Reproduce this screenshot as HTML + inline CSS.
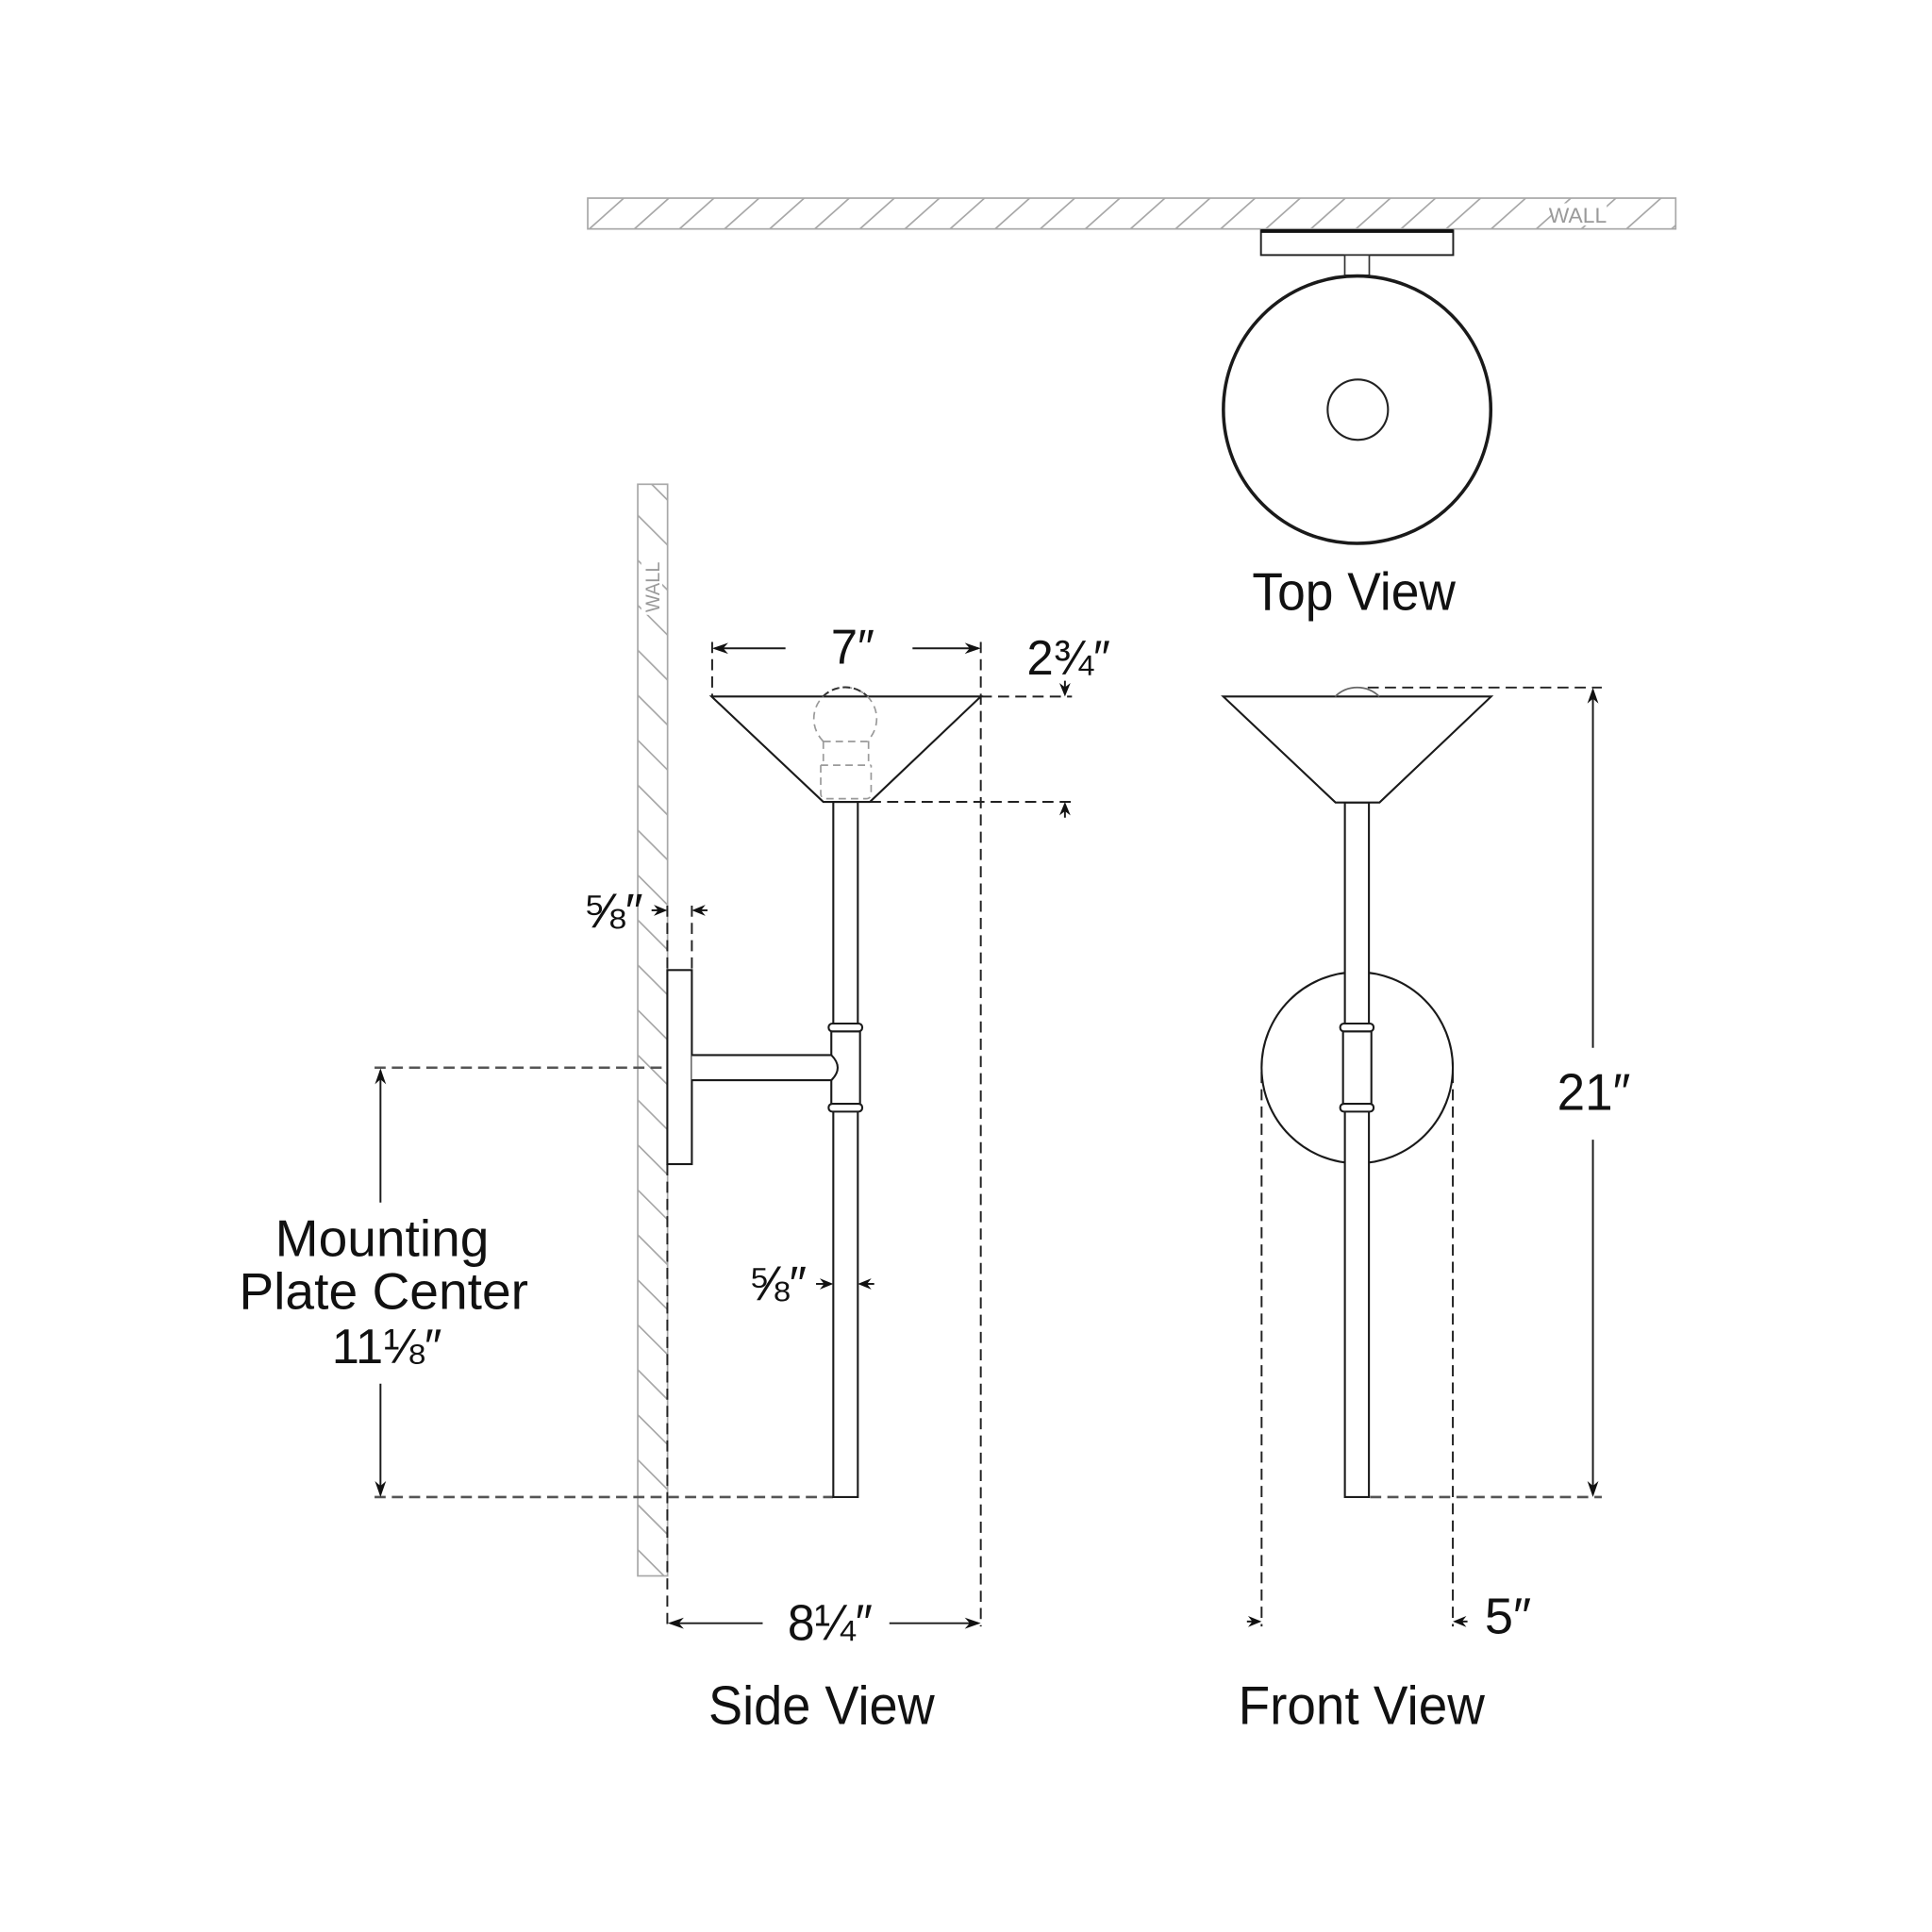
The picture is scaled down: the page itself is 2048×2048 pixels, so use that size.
<!DOCTYPE html>
<html><head><meta charset="utf-8"><style>html,body{margin:0;padding:0;background:#fff}svg{display:block}text{font-family:"Liberation Sans","DejaVu Sans",sans-serif;fill:#111}</style></head>
<body>
<svg xmlns="http://www.w3.org/2000/svg" width="2048" height="2048" viewBox="0 0 1568 1568">
<defs>
<clipPath id="cw1"><rect x="477" y="160.8" width="883" height="25"/></clipPath>
<clipPath id="cw2"><rect x="517.6" y="393" width="24.2" height="886"/></clipPath>
</defs>
<rect x="0" y="0" width="1568" height="1568" fill="#fff"/>

<!-- TOP WALL -->
<g stroke="#a8a8a8" stroke-width="1.3" fill="none">
<rect x="477" y="160.8" width="883" height="25"/>
<g clip-path="url(#cw1)">
<path d="M478.3 185.8L506.3 160.8M514.9 185.8L542.9 160.8M551.5 185.8L579.5 160.8M588.1 185.8L616.1 160.8M624.7 185.8L652.7 160.8M661.3 185.8L689.3 160.8M697.9 185.8L725.9 160.8M734.5 185.8L762.5 160.8M771.1 185.8L799.1 160.8M807.7 185.8L835.7 160.8M844.3 185.8L872.3 160.8M880.9 185.8L908.9 160.8M917.5 185.8L945.5 160.8M954.1 185.8L982.1 160.8M990.7 185.8L1018.7 160.8M1027.3 185.8L1055.3 160.8M1063.9 185.8L1091.9 160.8M1100.5 185.8L1128.5 160.8M1137.1 185.8L1165.1 160.8M1173.7 185.8L1201.7 160.8M1210.3 185.8L1238.3 160.8M1246.9 185.8L1274.9 160.8M1283.5 185.8L1311.5 160.8M1320.1 185.8L1348.1 160.8M1356.7 185.8L1384.7 160.8"/>
</g>
</g>
<rect x="1259" y="165" width="45" height="18" fill="#fff"/>
<text x="1257" y="180.7" font-size="17" textLength="47" lengthAdjust="spacingAndGlyphs" style="fill:#9a9a9a">WALL</text>

<!-- TOP VIEW -->
<rect x="1023.4" y="187" width="156" height="20" fill="#fff" stroke="#222" stroke-width="1.5"/>
<line x1="1023.4" y1="187.5" x2="1179.4" y2="187.5" stroke="#111" stroke-width="3"/>
<rect x="1091.4" y="207" width="19.9" height="16.5" fill="#fff" stroke="#333" stroke-width="1.3"/>
<circle cx="1101.4" cy="332.5" r="108.5" fill="#fff" stroke="#1a1a1a" stroke-width="2.7"/>
<circle cx="1102" cy="332.5" r="24.5" fill="none" stroke="#222" stroke-width="1.6"/>
<text x="1016.3" y="495" font-size="43" textLength="165" lengthAdjust="spacingAndGlyphs">Top View</text>

<!-- SIDE WALL -->
<g stroke="#a8a8a8" stroke-width="1.3" fill="none">
<rect x="517.6" y="393" width="24.2" height="886"/>
<g clip-path="url(#cw2)">
<path d="M517.6 381.7l24.2 24.2M517.6 418.2l24.2 24.2M517.6 454.7l24.2 24.2M517.6 491.2l24.2 24.2M517.6 527.7l24.2 24.2M517.6 564.2l24.2 24.2M517.6 600.7l24.2 24.2M517.6 637.2l24.2 24.2M517.6 673.7l24.2 24.2M517.6 710.2l24.2 24.2M517.6 746.7l24.2 24.2M517.6 783.2l24.2 24.2M517.6 819.7l24.2 24.2M517.6 856.2l24.2 24.2M517.6 892.7l24.2 24.2M517.6 929.2l24.2 24.2M517.6 965.7l24.2 24.2M517.6 1002.2l24.2 24.2M517.6 1038.7l24.2 24.2M517.6 1075.2l24.2 24.2M517.6 1111.7l24.2 24.2M517.6 1148.2l24.2 24.2M517.6 1184.7l24.2 24.2M517.6 1221.2l24.2 24.2M517.6 1257.7l24.2 24.2"/>
</g>
</g>
<rect x="520.5" y="452" width="17" height="47" fill="#fff"/>
<text transform="translate(535,497) rotate(-90)" x="0" y="0" font-size="16" textLength="41" lengthAdjust="spacingAndGlyphs" style="fill:#9a9a9a">WALL</text>

<!-- SIDE VIEW dashed lines -->
<g stroke="#222" stroke-width="1.5" stroke-dasharray="9 5" fill="none">
<line x1="578" y1="521" x2="578" y2="565"/>
<line x1="796" y1="521" x2="796" y2="1320"/>
<line x1="541.6" y1="735" x2="541.6" y2="787"/>
<line x1="561.5" y1="735" x2="561.5" y2="787"/>
<line x1="541.6" y1="945" x2="541.6" y2="1320"/>
<line x1="796" y1="565.3" x2="870" y2="565.3"/>
<line x1="706" y1="650.8" x2="870" y2="650.8"/>
</g>
<g stroke="#555" stroke-width="2" stroke-dasharray="9 5" fill="none">
<line x1="304" y1="866.5" x2="541" y2="866.5"/>
<line x1="304" y1="1215" x2="676" y2="1215"/>
</g>

<!-- SIDE VIEW fixture -->
<g stroke="#1a1a1a" stroke-width="1.6" fill="#fff">
<rect x="541.6" y="787.3" width="19.9" height="157.5"/>
<rect x="676.3" y="650.8" width="19.9" height="564.2"/>
<rect x="674.7" y="837" width="23.3" height="59"/>
<rect x="672.5" y="830.7" width="27.3" height="6.4" rx="3"/>
<rect x="672.5" y="895.8" width="27.3" height="6.4" rx="3"/>
<path d="M561.5 856.3H674.7Q685 866.5 674.7 876.7H561.5"/>
<polygon points="577.5,565.3 796,565.3 706,650.8 668.2,650.8"/>
</g>
<!-- bulb side -->
<g fill="none" stroke="#9a9a9a" stroke-width="1.3" stroke-dasharray="6 4">
<path d="M668.2 601.8L666.7 600A25.5 25.5 0 1 1 705.3 600L704.9 601.8"/>
<path d="M668.2 601.8H704.9M668.2 601.8V621M704.9 601.8V621M666.1 621H707M666.1 621V644Q666.1 648.2 670.5 648.2H702.6Q707 648.2 707 644V621"/>
</g>
<path d="M667.9 565.3A25.5 25.5 0 0 1 704.1 565.3" fill="none" stroke="#333" stroke-width="1.5" stroke-dasharray="6 3"/>

<!-- SIDE VIEW dimension lines -->
<g stroke="#1a1a1a" stroke-width="1.5" fill="none">
<line x1="580" y1="526.2" x2="637.5" y2="526.2"/>
<line x1="740.6" y1="526.2" x2="794" y2="526.2"/>
<line x1="544" y1="1317.4" x2="619" y2="1317.4"/>
<line x1="721.8" y1="1317.4" x2="794" y2="1317.4"/>
<line x1="308.8" y1="869" x2="308.8" y2="976"/>
<line x1="308.8" y1="1123" x2="308.8" y2="1213"/>
<line x1="864.3" y1="552.5" x2="864.3" y2="563"/>
<line x1="864.3" y1="653" x2="864.3" y2="663.6"/>
<line x1="528.8" y1="738.8" x2="539" y2="738.8"/>
<line x1="564" y1="738.8" x2="574.2" y2="738.8"/>
<line x1="662.3" y1="1042" x2="674" y2="1042"/>
<line x1="698.5" y1="1042" x2="709.5" y2="1042"/>
</g>
<g fill="#111">
<polygon points="578,526.2 591,521.7 587,526.2 591,530.7"/>
<polygon points="796,526.2 783,521.7 787,526.2 783,530.7"/>
<polygon points="542,1317.4 555,1312.9 551,1317.4 555,1321.9"/>
<polygon points="796,1317.4 783,1312.9 787,1317.4 783,1321.9"/>
<polygon points="308.8,867 304.3,880 308.8,876 313.3,880"/>
<polygon points="308.8,1215 304.3,1202 308.8,1206 313.3,1202"/>
<polygon points="864.3,565.3 859.8,554.3 864.3,557.8 868.8,554.3"/>
<polygon points="864.3,650.8 859.8,661.8 864.3,658.3 868.8,661.8"/>
<polygon points="541.6,738.8 530.6,734.3 534.1,738.8 530.6,743.3"/>
<polygon points="561.5,738.8 572.5,734.3 569,738.8 572.5,743.3"/>
<polygon points="676.3,1042 665.3,1037.5 668.8,1042 665.3,1046.5"/>
<polygon points="696.2,1042 707.2,1037.5 703.7,1042 707.2,1046.5"/>
</g>

<!-- SIDE VIEW texts -->
<text x="674.4" y="538.5" font-size="40" textLength="35.3" lengthAdjust="spacingAndGlyphs">7″</text>
<text x="833.4" y="547.4" font-size="40" textLength="67.7" lengthAdjust="spacingAndGlyphs">2¾″</text>
<text x="473.4" y="752.9" font-size="40" textLength="48.5" lengthAdjust="spacingAndGlyphs">⅝″</text>
<text x="607.4" y="1055.3" font-size="40" textLength="47.2" lengthAdjust="spacingAndGlyphs">⅝″</text>
<text x="639.2" y="1331" font-size="41" textLength="69" lengthAdjust="spacingAndGlyphs">8¼″</text>
<text x="223.3" y="1019.6" font-size="42" textLength="173.6" lengthAdjust="spacingAndGlyphs">Mounting</text>
<text x="194" y="1062.2" font-size="42" textLength="234.8" lengthAdjust="spacingAndGlyphs">Plate Center</text>
<text x="269.3" y="1106.4" font-size="40" textLength="89.3" lengthAdjust="spacingAndGlyphs">11⅛″</text>
<text x="575" y="1399" font-size="44" textLength="183.5" lengthAdjust="spacingAndGlyphs">Side View</text>

<!-- FRONT VIEW -->
<g stroke="#222" stroke-width="1.5" stroke-dasharray="9 5" fill="none">
<line x1="1023.9" y1="870" x2="1023.9" y2="1320"/>
<line x1="1179.1" y1="870" x2="1179.1" y2="1320"/>
<line x1="1110" y1="558" x2="1300" y2="558"/>
</g>
<g stroke="#555" stroke-width="2" stroke-dasharray="9 5" fill="none">
<line x1="1112" y1="1215" x2="1300" y2="1215"/>
</g>
<g stroke="#1a1a1a" stroke-width="1.6" fill="#fff">
<circle cx="1101.5" cy="866.5" r="77.6"/>
<rect x="1091.5" y="651.3" width="19.5" height="563.7"/>
<rect x="1090" y="837" width="23" height="59"/>
<rect x="1087.7" y="830.7" width="27.1" height="6.4" rx="3"/>
<rect x="1087.7" y="895.8" width="27.1" height="6.4" rx="3"/>
<polygon points="992.8,565.3 1210.2,565.3 1119.6,651.3 1083.9,651.3"/>
</g>
<path d="M1083.6 565.3A25.5 25.5 0 0 1 1119.4 565.3" fill="none" stroke="#666" stroke-width="1.4"/>
<g stroke="#1a1a1a" stroke-width="1.5" fill="none">
<line x1="1292.8" y1="560" x2="1292.8" y2="850.4"/>
<line x1="1292.8" y1="925" x2="1292.8" y2="1213"/>
<line x1="1012" y1="1316" x2="1022" y2="1316"/>
<line x1="1181" y1="1316" x2="1191" y2="1316"/>
</g>
<g fill="#111">
<polygon points="1292.8,558 1288.3,571 1292.8,567 1297.3,571"/>
<polygon points="1292.8,1215 1288.3,1202 1292.8,1206 1297.3,1202"/>
<polygon points="1023.9,1316 1012.9,1311.5 1016.4,1316 1012.9,1320.5"/>
<polygon points="1179.1,1316 1190.1,1311.5 1186.6,1316 1190.1,1320.5"/>
</g>
<text x="1263.8" y="900.9" font-size="42" textLength="59.5" lengthAdjust="spacingAndGlyphs">21″</text>
<text x="1205" y="1325.8" font-size="41" textLength="37.8" lengthAdjust="spacingAndGlyphs">5″</text>
<text x="1005" y="1399" font-size="44" textLength="200" lengthAdjust="spacingAndGlyphs">Front View</text>
</svg>
</body></html>
